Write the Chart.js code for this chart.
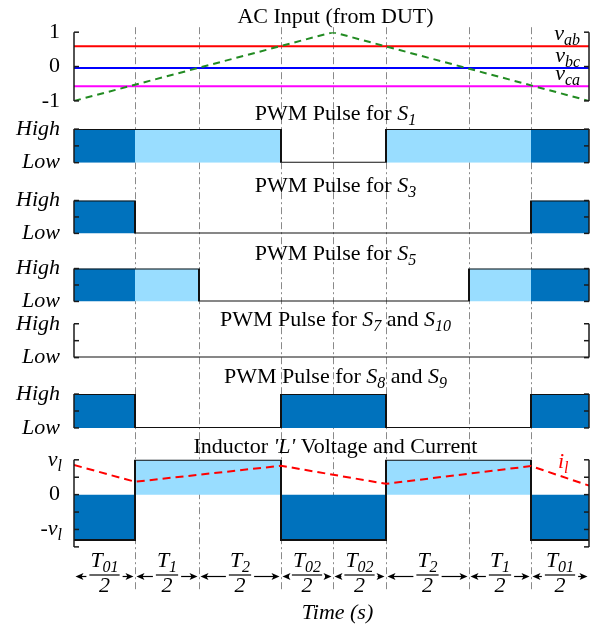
<!DOCTYPE html>
<html>
<head>
<meta charset="utf-8">
<title>Switching sequence</title>
<script src="https://cdn.jsdelivr.net/npm/chart.js@4.4.1/dist/chart.umd.min.js"></script>
<style>
  html, body { margin: 0; padding: 0; background: #fff; }
  #wrap { width: 602px; height: 629px; }
</style>
</head>
<body>
<div id="wrap"><canvas id="chart" width="602" height="629"></canvas></div>
<script>
// Interval boundaries along the time axis (8 sub-intervals)
var boundaries = [0, 61, 125, 207, 259, 312, 395, 457, 515];
// T subscripts for each interval, shown as T/2
var intervalNames = ['01', '1', '2', '02', '02', '2', '1', '01'];
// zero-vector intervals are dark, active ones light
var shade = ['dark', 'light', 'light', 'dark', 'dark', 'light', 'light', 'dark'];

// AC input (per unit)
var vabLevel = 0.59;
var vbcLevel = -0.04;
var vcaLevel = -0.57;
var refTime = [0, 259, 515];
var refValue = [-1, 1, -1];

// gate states per interval, 1 = High, 0 = Low
var s1 = [1, 1, 1, 0, 0, 1, 1, 1];
var s3 = [1, 0, 0, 0, 0, 0, 0, 1];
var s5 = [1, 1, 0, 0, 0, 0, 1, 1];
var s7s10 = [0, 0, 0, 0, 0, 0, 0, 0];
var s8s9 = [1, 0, 0, 1, 1, 0, 0, 1];

// inductor voltage per interval and current samples
var inductorVoltage = [-1.3, 1, 1, -1.3, -1.3, 1, 1, -1.3];
var currentTime = [0, 61, 207, 312, 457, 515];
var currentValue = [0.85, 0.37, 0.83, 0.31, 0.82, 0.26];

var FONT = "'Liberation Serif', 'Times New Roman', Times, serif";
var DARK = '#0072BD';
var LIGHT = '#99DDFF';

function stepPoints(values) {
    return boundaries.map(function (t, i) {
        return { x: t, y: values[Math.min(i, values.length - 1)] };
    });
}
function linePoints(xs, ys) {
    return xs.map(function (x, i) { return { x: x, y: ys[i] }; });
}
function flatPoints(v) {
    return [{ x: boundaries[0], y: v }, { x: boundaries[boundaries.length - 1], y: v }];
}

// datasets
var datasets = [
    { data: linePoints(refTime, refValue), yAxisID: 'yAC', borderColor: '#228B22', borderWidth: 2, borderDash: [7, 5], order: 0 },
    { data: flatPoints(vabLevel), yAxisID: 'yAC', borderColor: '#ff0000', borderWidth: 2, order: 1 },
    { data: flatPoints(vbcLevel), yAxisID: 'yAC', borderColor: '#0000ff', borderWidth: 2, order: 1 },
    { data: flatPoints(vcaLevel), yAxisID: 'yAC', borderColor: '#ff00ff', borderWidth: 2, order: 1 }
];

var pulsePanels = [
    { id: 'yS1', states: s1 },
    { id: 'yS3', states: s3 },
    { id: 'yS5', states: s5 },
    { id: 'yS7', states: s7s10 },
    { id: 'yS8', states: s8s9 }
];

// 'before' keeps each value until the next boundary
pulsePanels.forEach(function (p) {
    var dark = p.states.map(function (s, i) { return shade[i] === 'dark' ? s : 0; });
    var light = p.states.map(function (s, i) { return shade[i] === 'light' ? s : 0; });
    datasets.push({ data: stepPoints(p.states), yAxisID: p.id, stepped: 'before', borderColor: '#111', borderWidth: 2, order: 0 });
    datasets.push({ data: stepPoints(light), yAxisID: p.id, stepped: 'before', borderColor: 'rgba(0,0,0,0)', borderWidth: 0, backgroundColor: LIGHT, fill: 'start', order: 2 });
    datasets.push({ data: stepPoints(dark), yAxisID: p.id, stepped: 'before', borderColor: 'rgba(0,0,0,0)', borderWidth: 0, backgroundColor: DARK, fill: 'start', order: 2 });
});

var vPos = inductorVoltage.map(function (v) { return v > 0 ? v : 0; });
var vNeg = inductorVoltage.map(function (v) { return v < 0 ? v : 0; });
datasets.push({ data: linePoints(currentTime, currentValue), yAxisID: 'yL', borderColor: '#ff0000', borderWidth: 2, borderDash: [8, 5], order: 0 });
datasets.push({ data: stepPoints(inductorVoltage), yAxisID: 'yL', stepped: 'before', borderColor: '#111', borderWidth: 2, order: 1 });
datasets.push({ data: stepPoints(vPos), yAxisID: 'yL', stepped: 'before', borderColor: 'rgba(0,0,0,0)', borderWidth: 0, backgroundColor: LIGHT, fill: 'origin', order: 2 });
datasets.push({ data: stepPoints(vNeg), yAxisID: 'yL', stepped: 'before', borderColor: 'rgba(0,0,0,0)', borderWidth: 0, backgroundColor: DARK, fill: 'origin', order: 2 });

// vertical stack of panels and gaps (pixel heights)
var stackLayout = [
    ['g0', 5], ['yAC', 69], ['g1', 28.3], ['yS1', 33.7], ['g2', 38], ['yS3', 33],
    ['g3', 35.3], ['yS5', 33], ['g4', 22.4], ['yS7', 34], ['g5', 36.6], ['yS8', 34],
    ['g6', 32], ['yL', 87.4], ['g7', 45.3]
];

function hiLow(v) { return v === 1 ? 'High' : (v === 0 ? 'Low' : ''); }

function panelAxis(min, max, step, labelFn, italic) {
    return {
        type: 'linear', position: 'left', stack: 'panels',
        min: min, max: max,
        grid: { display: false, drawTicks: false },
        border: { display: false },
        ticks: {
            stepSize: step, padding: 14, color: '#000', autoSkip: false,
            font: { family: FONT, size: 22, style: italic ? 'italic' : 'normal' },
            callback: labelFn
        },
        afterFit: function (s) { s.width = 74; }
    };
}

var scales = {
    x: {
        type: 'linear', min: 0, max: 515, position: 'bottom',
        afterBuildTicks: function (s) {
            s.ticks = boundaries.slice(1, -1).map(function (v) { return { value: v }; });
        },
        grid: { color: '#8a8a8a', lineWidth: 1, drawTicks: false },
        border: { display: false, dash: [7, 3, 2, 3] },
        ticks: { display: false },
        afterFit: function (s) { s.height = 0; }
    }
};

stackLayout.forEach(function (item, i) {
    var id = item[0], cfg;
    if (id === 'yAC') {
        cfg = panelAxis(-1, 1, 1, function (v) { return String(v); }, false);
    } else if (id === 'yL') {
        cfg = panelAxis(-1.5, 1, 0.5, function (v) { return v === 0 ? '0' : ''; }, false);
    } else if (id.charAt(0) === 'y') {
        cfg = panelAxis(0, 1, 0.5, hiLow, true);
    } else {
        cfg = { type: 'linear', position: 'left', stack: 'panels', display: false, min: 0, max: 1 };
    }
    cfg.stackWeight = item[1];
    cfg.weight = 100 - i;
    scales[id] = cfg;
});

var titles = [
    { axis: 'yAC', dy: 9, runs: [['AC Input (from DUT)', 0, 0]] },
    { axis: 'yS1', dy: 9, runs: [['PWM Pulse for ', 0, 0], ['S', 1, 0], ['1', 1, 1]] },
    { axis: 'yS3', dy: 9, runs: [['PWM Pulse for ', 0, 0], ['S', 1, 0], ['3', 1, 1]] },
    { axis: 'yS5', dy: 9, runs: [['PWM Pulse for ', 0, 0], ['S', 1, 0], ['5', 1, 1]] },
    { axis: 'yS7', dy: -2.5, runs: [['PWM Pulse for ', 0, 0], ['S', 1, 0], ['7', 1, 1], [' and ', 0, 0], ['S', 1, 0], ['10', 1, 1]] },
    { axis: 'yS8', dy: 11, runs: [['PWM Pulse for ', 0, 0], ['S', 1, 0], ['8', 1, 1], [' and ', 0, 0], ['S', 1, 0], ['9', 1, 1]] },
    { axis: 'yL', dy: 7, runs: [['Inductor ', 0, 0], ["'L'", 1, 0], [' Voltage and Current', 0, 0]] }
];

var acLabels = [[vabLevel, 'ab'], [vbcLevel, 'bc'], [vcaLevel, 'ca']];

function setFont(ctx, run) {
    ctx.font = (run[1] ? 'italic ' : '') + (run[2] ? 16 : 22) + 'px ' + FONT;
}
function richWidth(ctx, runs) {
    var w = 0;
    runs.forEach(function (r) { setFont(ctx, r); w += ctx.measureText(r[0]).width; });
    return w;
}
function drawRich(ctx, runs, x, y, align) {
    var w = richWidth(ctx, runs);
    var cx = align === 'center' ? x - w / 2 : (align === 'right' ? x - w : x);
    ctx.textAlign = 'left';
    ctx.textBaseline = 'alphabetic';
    runs.forEach(function (r) {
        setFont(ctx, r);
        ctx.fillText(r[0], cx, r[2] ? y + 5 : y);
        cx += ctx.measureText(r[0]).width;
    });
    return w;
}
function arrow(ctx, x0, tip, y) {
    var dir = tip > x0 ? 1 : -1;
    ctx.beginPath();
    ctx.moveTo(x0, y);
    ctx.lineTo(tip - dir * 5, y);
    ctx.stroke();
    ctx.beginPath();
    ctx.moveTo(tip, y);
    ctx.lineTo(tip - dir * 8, y - 3.5);
    ctx.lineTo(tip - dir * 6, y);
    ctx.lineTo(tip - dir * 8, y + 3.5);
    ctx.closePath();
    ctx.fill();
}

var decor = {
    id: 'decor',
    afterDraw: function (chart) {
        var ctx = chart.ctx;
        var area = chart.chartArea;
        var xs = chart.scales.x;
        var midX = (area.left + area.right) / 2 + 4;
        ctx.save();

        // brackets with inward ticks on both sides
        ctx.strokeStyle = '#1a1a1a';
        ctx.lineWidth = 1.5;
        ['yAC', 'yS1', 'yS3', 'yS5', 'yS7', 'yS8', 'yL'].forEach(function (id) {
            var s = chart.scales[id];
            [[area.left, 1], [area.right, -1]].forEach(function (side) {
                ctx.beginPath();
                ctx.moveTo(side[0], s.top);
                ctx.lineTo(side[0], s.bottom);
                ctx.stroke();
                s.ticks.forEach(function (t) {
                    var y = s.getPixelForValue(t.value);
                    ctx.beginPath();
                    ctx.moveTo(side[0], y);
                    ctx.lineTo(side[0] + side[1] * 5, y);
                    ctx.stroke();
                });
            });
        });

        ctx.fillStyle = '#000';
        titles.forEach(function (t) {
            drawRich(ctx, t.runs, midX, chart.scales[t.axis].top - t.dy, 'center');
        });

        // AC line labels
        var yAC = chart.scales.yAC;
        acLabels.forEach(function (l) {
            drawRich(ctx, [['v', 1, 0], [l[1], 1, 1]], area.right - 9, yAC.getPixelForValue(l[0]) - 6, 'right');
        });

        // inductor axis labels
        var yL = chart.scales.yL;
        drawRich(ctx, [['v', 1, 0], ['l', 1, 1]], area.left - 12, yL.getPixelForValue(1) + 6, 'right');
        drawRich(ctx, [['-', 0, 0], ['v', 1, 0], ['l', 1, 1]], area.left - 12, yL.getPixelForValue(-1) + 6, 'right');
        ctx.fillStyle = '#ff0000';
        drawRich(ctx, [['i', 1, 0], ['l', 1, 1]], xs.getPixelForValue(484), yL.getPixelForValue(0.76), 'left');

        // interval annotations
        ctx.fillStyle = '#000';
        ctx.strokeStyle = '#000';
        for (var i = 0; i < intervalNames.length; i++) {
            var a = xs.getPixelForValue(boundaries[i]);
            var b = xs.getPixelForValue(boundaries[i + 1]);
            var c = (a + b) / 2;
            var num = [['T', 1, 0], [intervalNames[i], 1, 1]];
            var w = drawRich(ctx, num, c, area.bottom - 25, 'center');
            ctx.lineWidth = 1.2;
            ctx.beginPath();
            ctx.moveTo(c - w / 2 - 1, area.bottom - 17);
            ctx.lineTo(c + w / 2 + 1, area.bottom - 17);
            ctx.stroke();
            drawRich(ctx, [['2', 1, 0]], c, area.bottom - 0.5, 'center');
            arrow(ctx, c - w / 2 - 4, a + 1.5, area.bottom - 15.5);
            arrow(ctx, c + w / 2 + 4, b - 1.5, area.bottom - 15.5);
        }

        drawRich(ctx, [['Time (s)', 1, 0]], midX + 2, area.bottom + 26.5, 'center');
        ctx.restore();
    }
};

new Chart(document.getElementById('chart'), {
    type: 'line',
    data: { datasets: datasets },
    options: {
        responsive: false,
        animation: false,
        devicePixelRatio: 1,
        layout: { padding: { top: 25, right: 13, bottom: 37, left: 0 } },
        elements: { point: { radius: 0 }, line: { tension: 0 } },
        plugins: { legend: { display: false }, tooltip: { enabled: false } },
        scales: scales
    },
    plugins: [decor]
});
</script>
</body>
</html>
